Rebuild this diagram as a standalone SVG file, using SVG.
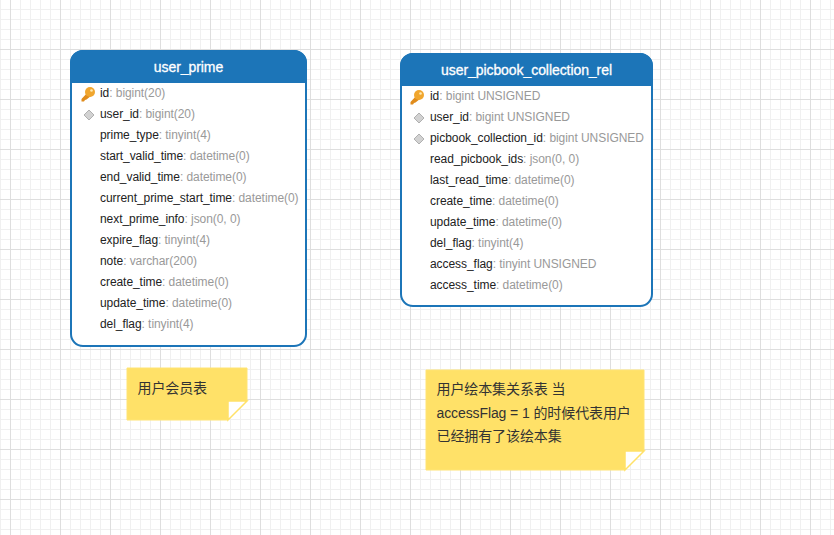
<svg xmlns="http://www.w3.org/2000/svg" width="834" height="535" viewBox="0 0 834 535">
<style>
.t{font-family:"Liberation Sans",Arial,sans-serif;font-size:12px;fill:#222;letter-spacing:-0.06px}
.t tspan{fill:#999}
.h{font-family:"Liberation Sans",Arial,sans-serif;font-size:14px;fill:#fff;stroke:#fff;stroke-width:.3;text-anchor:middle;letter-spacing:-0.07px}
.n{font-family:"Liberation Sans","Noto Sans CJK SC",sans-serif;font-size:14px;fill:#333;letter-spacing:-0.1px}
.box{fill:#fff;stroke:#1c75b8;stroke-width:2}
.head{fill:#1c75b8}
.note{fill:#ffe168;stroke:#ffe475;stroke-width:1}
.fold{fill:#fff;stroke:#ffe168;stroke-width:1.500}
.fk{fill:#d2d2d2;stroke:#b0b0b0;stroke-width:1}
</style>
<defs>
<pattern id="grid" width="50" height="50" patternUnits="userSpaceOnUse" x="10" y="-1">
<path d="M10.500 0V50M20.500 0V50M30.500 0V50M40.500 0V50M0 10.500H50M0 20.500H50M0 30.500H50M0 40.500H50" stroke="#f0f0f0" fill="none"/>
<path d="M0.500 0V50M0 0.500H50" stroke="#dedede" fill="none"/>
</pattern>
<g id="key">
<path d="M3-1L-3.500 6L-3.500 8.500L-1 8.500L0 7L1.500 6.500L6 3Z" fill="#e08c1c"/>
<circle cx="5" cy="-1" r="5" fill="#f0a62e"/>
<circle cx="6.500" cy="-2.500" r="1.300" fill="#ffe9b0"/>
</g>
<path id="dia" class="fk" d="M0-5L5 0L0 5L-5 0Z"/>
</defs>
<rect width="834" height="535" fill="#fff"/>
<rect width="834" height="535" fill="url(#grid)"/>
<g id="connectors"/>
<g id="table-user-prime">
<rect class="box" x="71" y="51" width="235" height="295" rx="12"/>
<path class="head" d="M70 83V63A13 13 0 0 1 83 50H294A13 13 0 0 1 307 63V83Z"/>
<text class="h" x="188.500" y="72">user_prime</text>
<use href="#key" x="85" y="93"/>
<text class="t" x="100" y="97">id<tspan>: bigint(20)</tspan></text>
<use href="#dia" x="89" y="115"/>
<text class="t" x="100" y="118">user_id<tspan>: bigint(20)</tspan></text>
<text class="t" x="100" y="139">prime_type<tspan>: tinyint(4)</tspan></text>
<text class="t" x="100" y="160">start_valid_time<tspan>: datetime(0)</tspan></text>
<text class="t" x="100" y="181">end_valid_time<tspan>: datetime(0)</tspan></text>
<text class="t" x="100" y="202">current_prime_start_time<tspan>: datetime(0)</tspan></text>
<text class="t" x="100" y="223">next_prime_info<tspan>: json(0, 0)</tspan></text>
<text class="t" x="100" y="244">expire_flag<tspan>: tinyint(4)</tspan></text>
<text class="t" x="100" y="265">note<tspan>: varchar(200)</tspan></text>
<text class="t" x="100" y="286">create_time<tspan>: datetime(0)</tspan></text>
<text class="t" x="100" y="307">update_time<tspan>: datetime(0)</tspan></text>
<text class="t" x="100" y="328">del_flag<tspan>: tinyint(4)</tspan></text>
</g>
<g id="table-user-picbook-collection-rel">
<rect class="box" x="401" y="54" width="251" height="252" rx="12"/>
<path class="head" d="M400 86V66A13 13 0 0 1 413 53H640A13 13 0 0 1 653 66V86Z"/>
<text class="h" x="526.500" y="75">user_picbook_collection_rel</text>
<use href="#key" x="414" y="96"/>
<text class="t" x="430" y="100">id<tspan>: bigint UNSIGNED</tspan></text>
<use href="#dia" x="419" y="118"/>
<text class="t" x="430" y="121">user_id<tspan>: bigint UNSIGNED</tspan></text>
<use href="#dia" x="419" y="139"/>
<text class="t" x="430" y="142">picbook_collection_id<tspan>: bigint UNSIGNED</tspan></text>
<text class="t" x="430" y="163">read_picbook_ids<tspan>: json(0, 0)</tspan></text>
<text class="t" x="430" y="184">last_read_time<tspan>: datetime(0)</tspan></text>
<text class="t" x="430" y="205">create_time<tspan>: datetime(0)</tspan></text>
<text class="t" x="430" y="226">update_time<tspan>: datetime(0)</tspan></text>
<text class="t" x="430" y="247">del_flag<tspan>: tinyint(4)</tspan></text>
<text class="t" x="430" y="268">access_flag<tspan>: tinyint UNSIGNED</tspan></text>
<text class="t" x="430" y="289">access_time<tspan>: datetime(0)</tspan></text>
</g>
<g id="note-user-prime">
<path class="note" d="M127 368H247V401L228 420H127Z"/>
<path class="fold" d="M228 420V401H247Z"/>
<text class="n" x="137.500" y="393">用户会员表</text>
</g>
<g id="note-user-picbook">
<path class="note" d="M426 370H644V451L625 470H426Z"/>
<path class="fold" d="M625 470V451H644Z"/>
<text class="n" x="436.500" y="394">用户绘本集关系表 当</text>
<text class="n" x="436.500" y="418">accessFlag = 1 的时候代表用户</text>
<text class="n" x="436.500" y="441">已经拥有了该绘本集</text>
</g>
</svg>
